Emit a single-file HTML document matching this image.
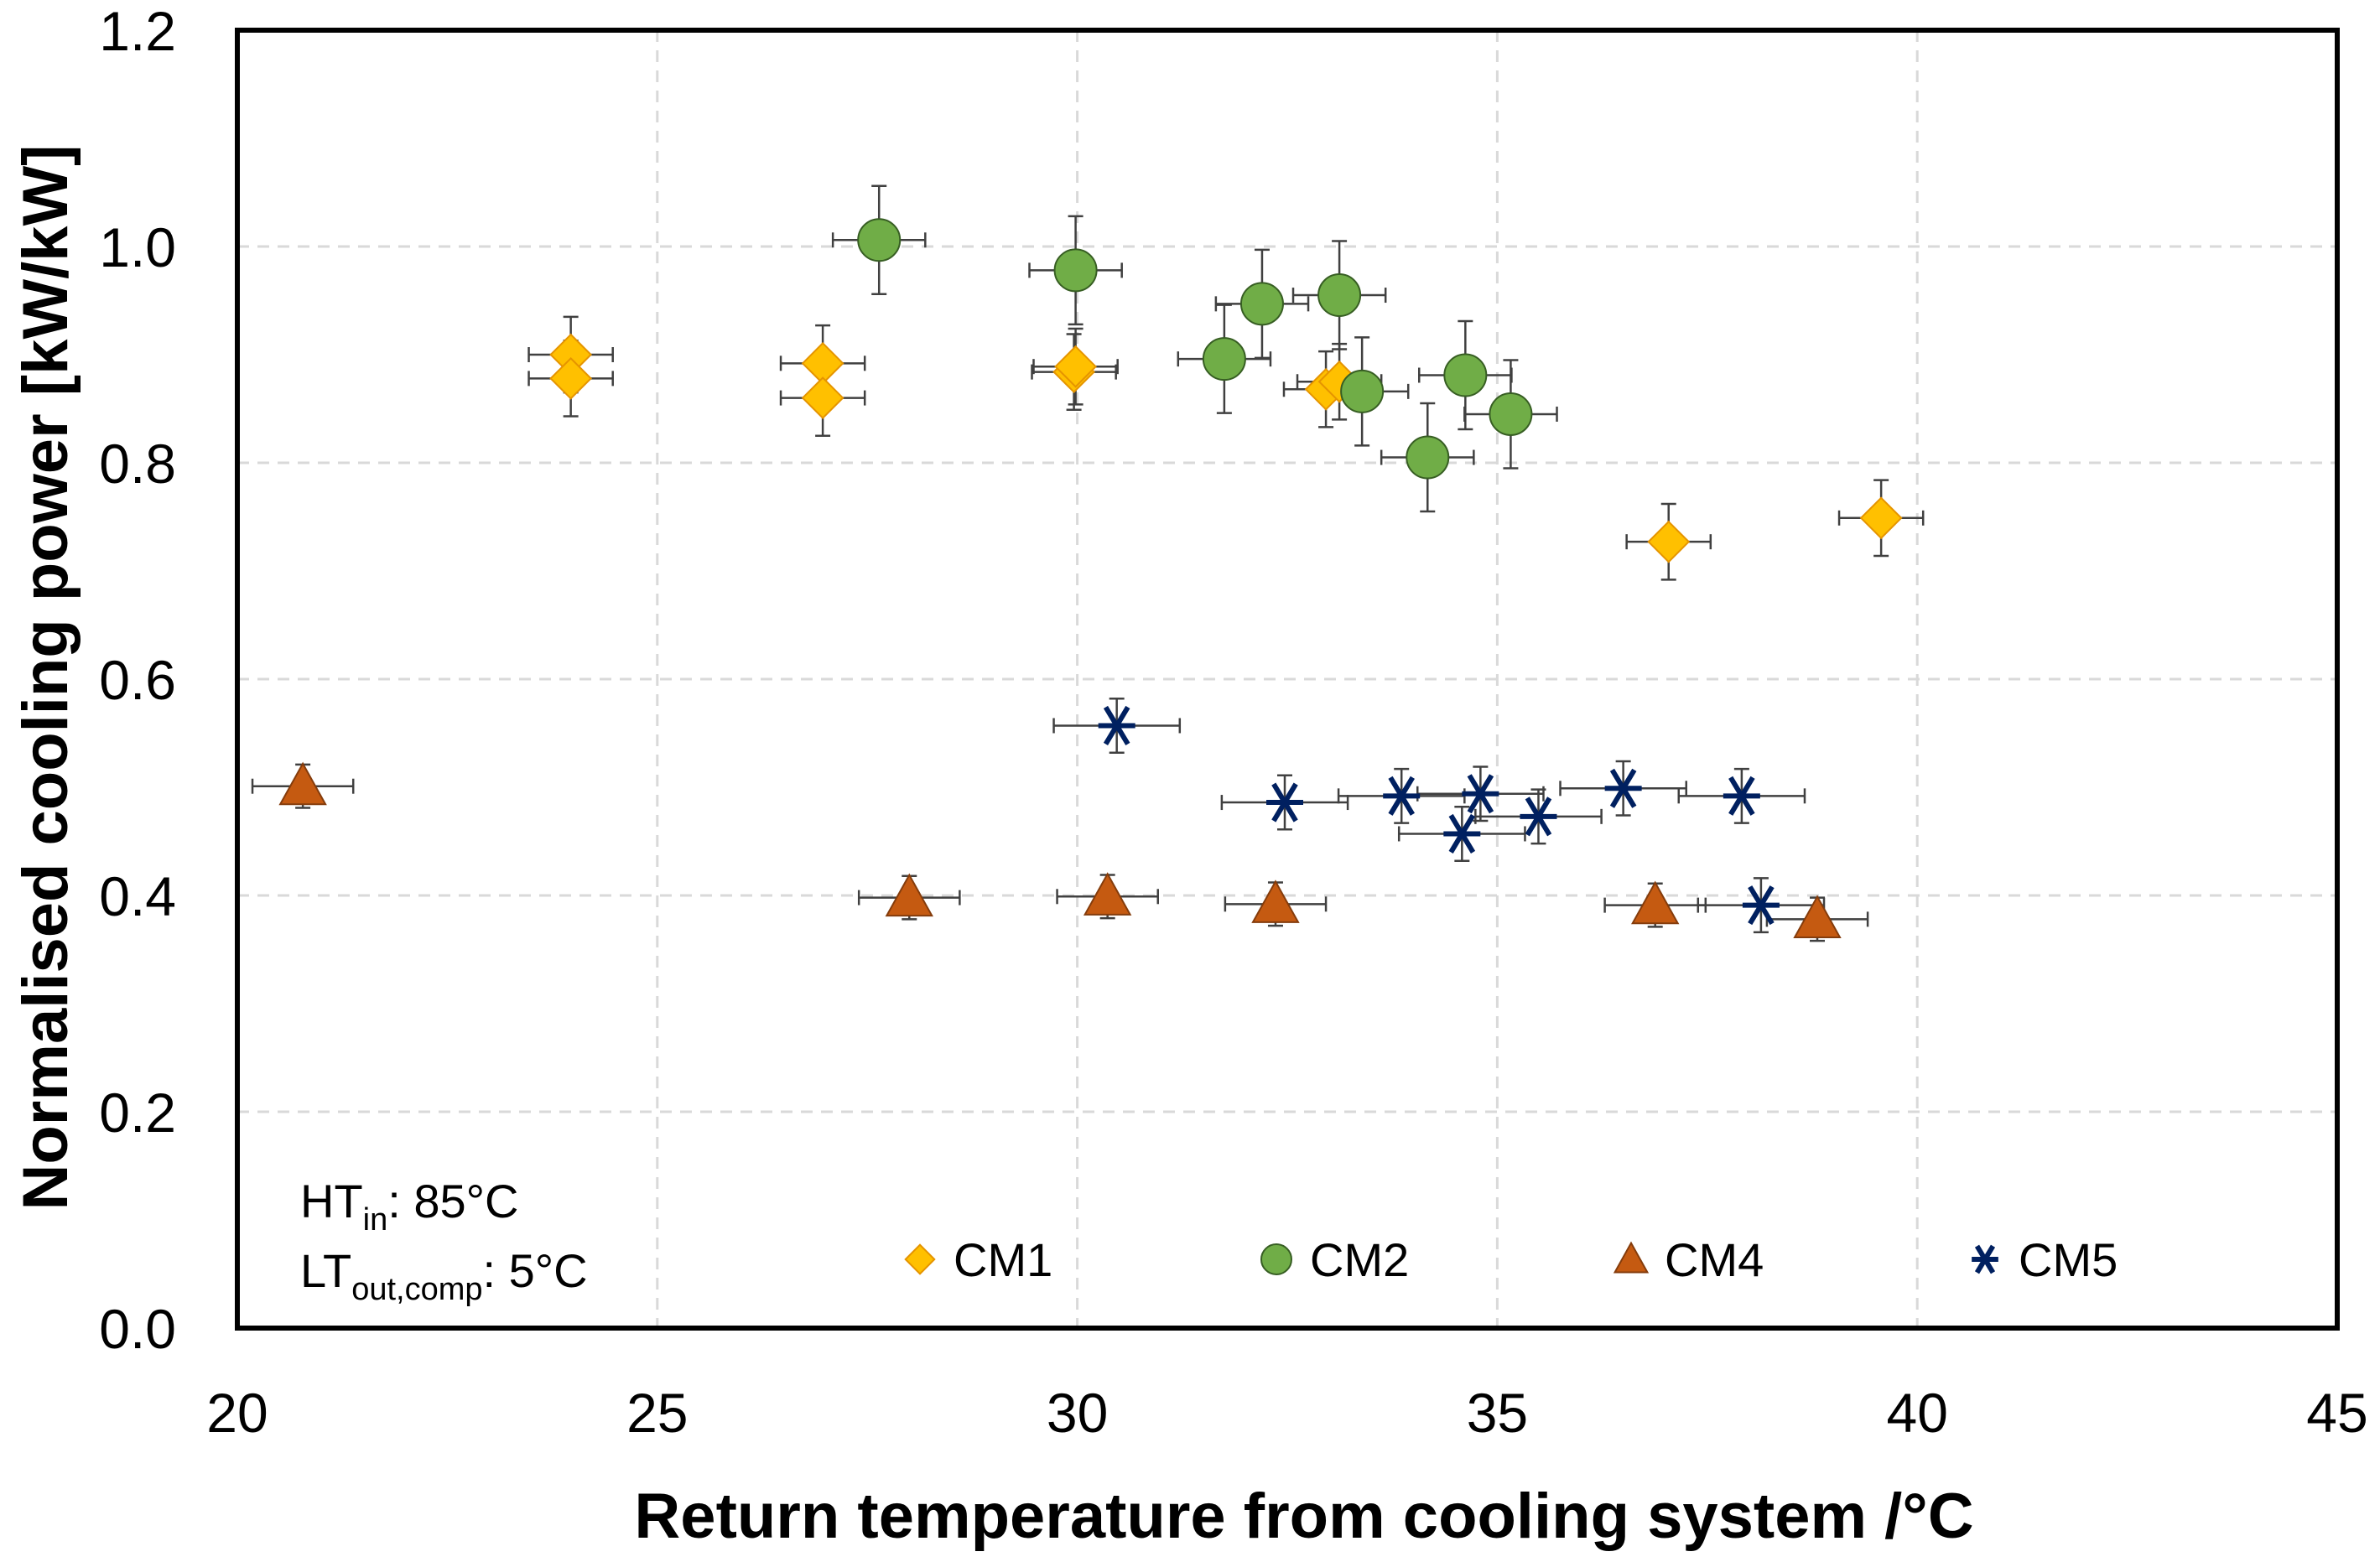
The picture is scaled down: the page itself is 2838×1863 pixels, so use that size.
<!DOCTYPE html>
<html><head><meta charset="utf-8"><style>
html,body{margin:0;padding:0;background:#fff;}
svg{display:block;font-family:"Liberation Sans",sans-serif;}
</style></head><body>
<svg id="chart" width="2838" height="1863" viewBox="0 0 2838 1863" xmlns="http://www.w3.org/2000/svg">
<g id="grid"></g>
<g id="errs"></g>
<g id="marks"></g>
<rect x="283" y="36" width="2504" height="1548" fill="none" stroke="#000" stroke-width="6"/>
<g id="ticks" font-size="66" fill="#000"></g>
<text x="1555" y="1834" font-size="76" font-weight="bold" text-anchor="middle">Return temperature from cooling system /°C</text>
<text transform="translate(80,808) rotate(-90)" font-size="76" font-weight="bold" text-anchor="middle">Normalised cooling power [kW/kW]</text>
<text x="358" y="1452" font-size="56">HT<tspan font-size="38" dy="15">in</tspan><tspan dy="-15">: 85°C</tspan></text>
<text x="358" y="1535" font-size="56">LT<tspan font-size="38" dy="15">out,comp</tspan><tspan dy="-15">: 5°C</tspan></text>
<g id="legend" font-size="56"></g>
</svg>
<script>
const xTicks=[20,25,30,35,40,45];
const yTicks=[0,0.2,0.4,0.6,0.8,1.0,1.2];
const cm1X=[23.97,23.97,26.97,26.97,29.96,29.98,32.96,33.12,37.04,39.57];
const cm1Y=[0.900,0.878,0.892,0.860,0.884,0.889,0.868,0.875,0.727,0.749];
const cm2X=[27.64,29.98,32.20,33.12,31.75,33.39,34.62,35.16,34.17];
const cm2Y=[1.006,0.978,0.947,0.955,0.896,0.866,0.881,0.845,0.805];
const cm4X=[20.78,28.0,30.36,32.36,36.88,38.81];
const cm4Y=[0.501,0.398,0.399,0.392,0.391,0.378];
const cm5X=[30.47,32.47,33.86,34.80,34.58,35.49,36.50,37.91,38.14];
const cm5Y=[0.557,0.486,0.492,0.494,0.457,0.473,0.499,0.492,0.391];
const errX={cm1:0.5,cm2:0.55,cm4:0.6,cm5:0.75};
const errY={cm1:0.035,cm2:0.05,cm4:0.02,cm5:0.025};
const NS="http://www.w3.org/2000/svg";
const X0=283,X1=2787,Y0=1584,Y1=36;
function sx(v){return X0+(v-20)/25*(X1-X0);}
function sy(v){return Y0-(v/1.2)*(Y0-Y1);}
function el(t,a,p){const e=document.createElementNS(NS,t);for(const k in a)e.setAttribute(k,a[k]);p.appendChild(e);return e;}
const grid=document.getElementById('grid'),ticks=document.getElementById('ticks');
xTicks.forEach(t=>{
 if(t>20&&t<45){const l=el('line',{x1:sx(t),x2:sx(t),y1:Y1,y2:Y0,stroke:'#d9d9d9','stroke-width':3,'stroke-dasharray':'14 10'},grid);
 
 }
 const tx=el('text',{x:sx(t),y:1708,'text-anchor':'middle'},ticks);tx.textContent=t;
 
 
});
yTicks.forEach(t=>{
 if(t>0&&t<1.2){const l=el('line',{x1:X0,x2:X1,y1:sy(t),y2:sy(t),stroke:'#d9d9d9','stroke-width':3,'stroke-dasharray':'14 10'},grid);
 
 }
 const tx=el('text',{x:210,y:sy(t)+24,'text-anchor':'end'},ticks);tx.textContent=t.toFixed(1);
 
 
});
const errs=document.getElementById('errs'),marks=document.getElementById('marks');
function errbar(x,y,ex,ey){
 const g=el('g',{stroke:'#404040','stroke-width':2.5},errs);
 
 
 const cx=sx(x),cy=sy(y),xl=sx(x-ex),xr=sx(x+ex),yt=sy(y+ey),yb=sy(y-ey),c=9;
 el('line',{x1:xl,x2:xr,y1:cy,y2:cy},g);el('line',{x1:xl,x2:xl,y1:cy-c,y2:cy+c},g);el('line',{x1:xr,x2:xr,y1:cy-c,y2:cy+c},g);
 el('line',{x1:cx,x2:cx,y1:yt,y2:yb},g);el('line',{x1:cx-c,x2:cx+c,y1:yt,y2:yt},g);el('line',{x1:cx-c,x2:cx+c,y1:yb,y2:yb},g);
}
function marker(type,cx,cy,p,s){
 s=s||1;let m;
 if(type==='cm1'){const r=24*s;m=el('polygon',{points:`${cx},${cy-r} ${cx+r},${cy} ${cx},${cy+r} ${cx-r},${cy}`,fill:'#FFC000',stroke:'#E59400','stroke-width':2},p);}
 else if(type==='cm2'){m=el('circle',{cx:cx,cy:cy,r:25*s,fill:'#70AD47',stroke:'#375E23','stroke-width':2},p);}
 else if(type==='cm4'){const r=27*s;m=el('polygon',{points:`${cx},${cy-r} ${cx+r},${cy+r*0.8} ${cx-r},${cy+r*0.8}`,fill:'#C55A11',stroke:'#843C0C','stroke-width':2},p);}
 else {const r=22*s;m=el('path',{d:`M${cx-r*0.6},${cy-r} L${cx+r*0.6},${cy+r} M${cx+r*0.6},${cy-r} L${cx-r*0.6},${cy+r} M${cx-r},${cy} L${cx+r},${cy}`,stroke:'#002060','stroke-width':6,fill:'none'},p);}
 return m;
}
[['cm1',cm1X,cm1Y],['cm2',cm2X,cm2Y],['cm4',cm4X,cm4Y],['cm5',cm5X,cm5Y]].forEach(([k,xs,ys])=>{
 xs.forEach((x,i)=>{errbar(x,ys[i],errX[k],errY[k]);
  const m=marker(k,sx(x),sy(ys[i]),marks);
  
  });
});
const leg=document.getElementById('legend');
[['cm1','CM1',1097],['cm2','CM2',1522],['cm4','CM4',1945],['cm5','CM5',2367]].forEach(([k,lab,x])=>{
 const g=el('g',{},leg);
 
 
 marker(k,x,1502,g,0.72);
 const t=el('text',{x:x+40,y:1522},g);t.textContent=lab;
});
</script>
</body></html>
